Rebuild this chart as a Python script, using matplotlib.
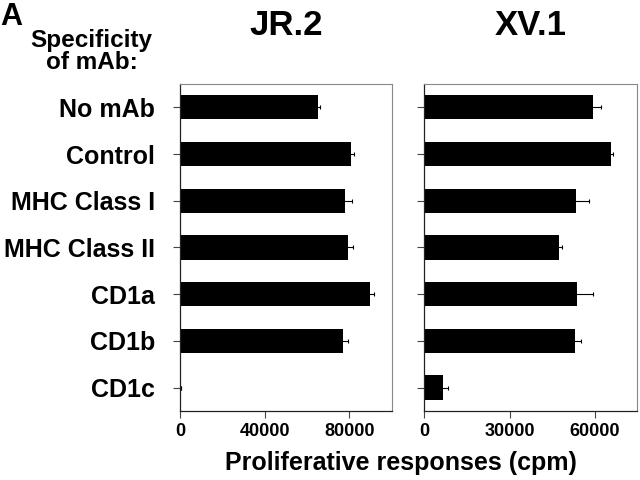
import matplotlib
matplotlib.use("Agg")
import matplotlib.pyplot as plt

# specificity of the blocking mAb, top to bottom
categories = ["No mAb", "Control", "MHC Class I", "MHC Class II", "CD1a", "CD1b", "CD1c"]

# JR.2 proliferative responses (cpm) and error
jr2_values = [65200, 80800, 78000, 79500, 89900, 76800, 400]
jr2_errors = [1000, 1300, 3500, 2200, 1600, 2400, 0]

# XV.1 proliferative responses (cpm) and error
xv1_values = [59300, 65700, 53500, 47500, 53600, 52900, 6700]
xv1_errors = [2800, 800, 4300, 1100, 5900, 2100, 1500]

jr2_ticks = [0, 40000, 80000]
xv1_ticks = [0, 30000, 60000]

plt.rcParams['font.family'] = ['Liberation Sans', 'DejaVu Sans']
plt.rcParams['font.weight'] = 'bold'

fig = plt.figure(figsize=(6.4, 4.8), dpi=100)

ax1 = fig.add_axes([0.281, 0.144, 0.331, 0.681])
ax2 = fig.add_axes([0.663, 0.144, 0.333, 0.681])

ypos = list(range(len(categories)))


def draw_panel(ax, values, errors, xmax, ticks, title):
    ax.barh(ypos, values, height=0.52, color="black",
            xerr=errors, error_kw=dict(ecolor="black", elinewidth=0.8, capsize=1.5, capthick=0.8))
    ax.set_xlim(0, xmax)
    ax.set_ylim(6.5, -0.5)
    ax.set_xticks(ticks)
    ax.set_xticklabels([str(t) for t in ticks], fontsize=13, fontweight='bold')
    ax.set_yticks(ypos)
    ax.tick_params(axis='both', direction='out', length=5, width=0.8, color="#444444")
    ax.tick_params(axis='x', pad=4)
    ax.tick_params(axis='y', pad=13)
    for side in ["top", "right"]:
        ax.spines[side].set_color("#888888")
        ax.spines[side].set_linewidth(0.8)
    for side in ["left", "bottom"]:
        ax.spines[side].set_color("#222222")
        ax.spines[side].set_linewidth(0.9)
    ax.set_title(title, fontsize=25, fontweight='bold', pad=35)


draw_panel(ax1, jr2_values, jr2_errors, 100000, jr2_ticks, "JR.2")
draw_panel(ax2, xv1_values, xv1_errors, 75000, xv1_ticks, "XV.1")

ax1.set_yticklabels(categories, fontsize=18, fontweight='bold')
ax2.set_yticklabels([])

fig.text(0.0, 0.995, "A", fontsize=22, fontweight='bold', va='top', ha='left')
fig.text(0.143, 0.94, "Specificity\nof mAb:", fontsize=17.5, fontweight='bold',
         va='top', ha='center', linespacing=0.95)
fig.text(0.627, 0.035, "Proliferative responses (cpm)", fontsize=18, fontweight='bold',
         ha='center', va='center')

fig.savefig("out.png", dpi=100)
